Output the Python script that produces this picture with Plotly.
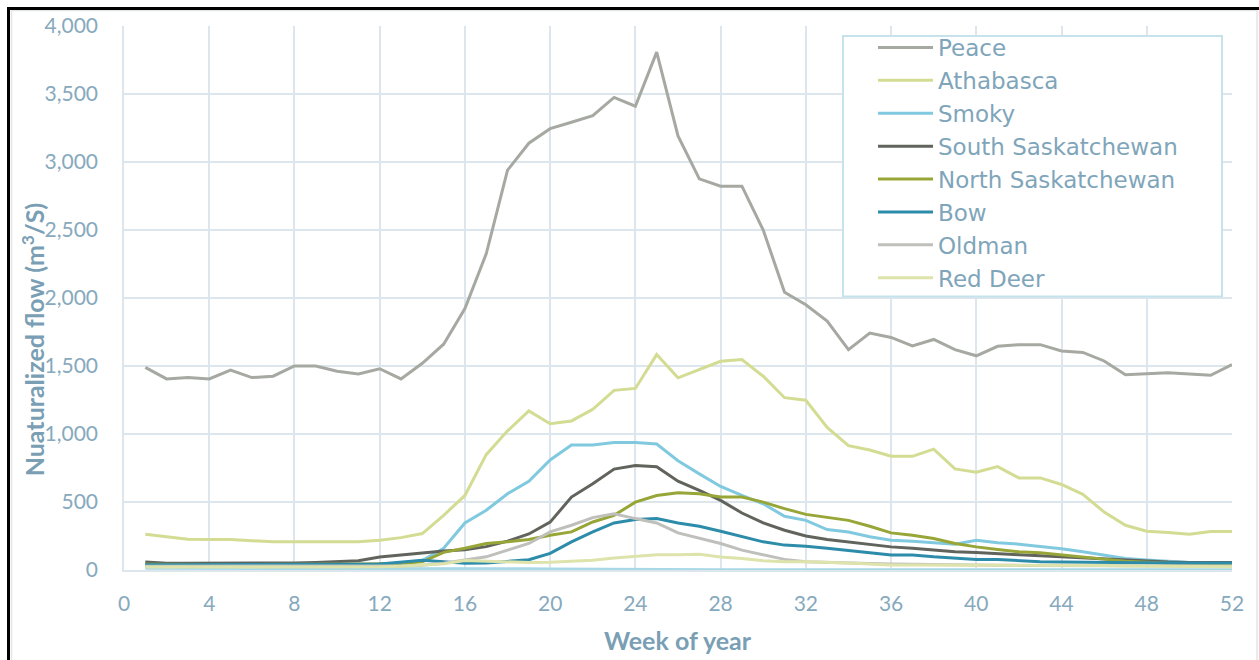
import plotly.graph_objects as go

weeks = [1, 2, 3, 4, 5, 6, 7, 8, 9, 10, 11, 12, 13, 14, 15, 16, 17, 18, 19, 20, 21, 22, 23, 24, 25, 26,
         27, 28, 29, 30, 31, 32, 33, 34, 35, 36, 37, 38, 39, 40, 41, 42, 43, 44, 45, 46, 47, 48, 49, 50, 51, 52]

peace = [1490, 1405, 1415, 1405, 1470, 1415, 1425, 1500, 1500, 1462, 1442, 1480, 1405, 1520, 1660, 1922,
         2325, 2940, 3138, 3245, 3292, 3340, 3475, 3410, 3808, 3192, 2876, 2822, 2822, 2500, 2042, 1950,
         1830, 1620, 1742, 1710, 1647, 1695, 1620, 1575, 1645, 1657, 1657, 1610, 1600, 1537, 1435, 1442,
         1450, 1442, 1432, 1510]
athabasca = [263, 245, 226, 224, 224, 215, 208, 207, 207, 207, 207, 219, 238, 268, 402, 548, 848, 1023,
             1170, 1075, 1096, 1182, 1321, 1335, 1584, 1413, 1474, 1535, 1547, 1425, 1267, 1248, 1048,
             914, 882, 836, 836, 889, 743, 719, 760, 677, 677, 629, 556, 426, 329, 285, 275, 263, 283, 283]
smoky = [30, 30, 30, 30, 30, 30, 30, 30, 30, 30, 30, 32, 45, 70, 160, 346, 439, 561, 653, 809, 919, 919,
         938, 938, 926, 804, 707, 614, 548, 487, 395, 365, 297, 280, 244, 219, 212, 200, 190, 219, 200,
         190, 175, 156, 134, 107, 85, 73, 63, 55, 50, 50]
south_sask = [58, 50, 50, 50, 50, 50, 50, 52, 56, 60, 68, 95, 108, 125, 140, 148, 172, 212, 265, 352, 536,
              634, 742, 768, 760, 653, 585, 512, 419, 346, 292, 250, 225, 205, 188, 170, 160, 146, 134,
              128, 122, 112, 104, 96, 88, 78, 70, 62, 58, 56, 55, 55]
north_sask = [42, 40, 40, 40, 40, 40, 40, 40, 40, 42, 44, 46, 50, 60, 130, 160, 195, 207, 224, 256, 280,
              353, 402, 499, 548, 568, 561, 536, 536, 499, 451, 409, 385, 365, 322, 273, 256, 232, 195,
              170, 151, 134, 127, 110, 97, 80, 65, 56, 50, 45, 42, 40]
bow = [38, 38, 38, 38, 38, 38, 38, 38, 38, 40, 42, 45, 60, 72, 60, 50, 52, 65, 75, 122, 207, 280, 346,
       372, 378, 346, 322, 285, 244, 207, 183, 175, 160, 146, 127, 110, 110, 97, 85, 78, 78, 68, 61, 58,
       56, 54, 52, 52, 52, 52, 52, 52]
oldman = [28, 28, 28, 28, 28, 28, 28, 28, 28, 28, 28, 28, 30, 35, 50, 73, 97, 146, 195, 280, 329, 385,
          414, 378, 346, 273, 232, 195, 146, 110, 78, 61, 55, 52, 48, 45, 42, 40, 38, 36, 35, 34, 33, 32,
          31, 30, 30, 30, 30, 30, 30, 30]
red_deer = [22, 22, 22, 22, 22, 22, 22, 22, 22, 22, 22, 24, 28, 35, 45, 70, 65, 60, 55, 57, 63, 72, 88,
            102, 112, 112, 115, 95, 85, 68, 61, 61, 58, 52, 45, 37, 37, 37, 37, 37, 37, 37, 37, 37, 35,
            33, 30, 28, 26, 25, 24, 24]
unlabelled = [12, 12, 12, 12, 12, 12, 12, 12, 12, 12, 12, 12, 12, 12, 14, 14, 12, 10, 9, 8, 7, 6, 2, 2,
              2, 2, 2, 2, 2, 2, 2, 2, 2, 2, 2, 2, 2, 2, 2, 2, 2, 2, 2, 2, 2, 2, 2, 2, 2, 2, 2, 2]

series_names = ["Peace", "Athabasca", "Smoky", "South Saskatchewan", "North Saskatchewan",
                "Bow", "Oldman", "Red Deer"]
series_values = [peace, athabasca, smoky, south_sask, north_sask, bow, oldman, red_deer]
series_colors = ["#A6A9A1", "#D3DC92", "#80C9DF", "#60645D", "#98A537", "#2D8CAA", "#BFC0BC", "#DDE3AB"]

x_ticks = [0, 4, 8, 12, 16, 20, 24, 28, 32, 36, 40, 44, 48, 52]
y_ticks = [0, 500, 1000, 1500, 2000, 2500, 3000, 3500, 4000]

FONT = "Lato"
LEGEND_FONT = "DejaVu Sans"
TICK_COLOR = "#86A9BD"
TITLE_COLOR = "#7A9FB5"
GRID = "#DCE6EC"

W, H = 1259, 660
ML, MR, MT, MB = 124, 27, 23, 90
PW, PH = W - ML - MR, H - MT - MB


def px(xp):
    return (xp - ML) / PW


def py(yp):
    return (H - MB - yp) / PH


fig = go.Figure()

fig.add_trace(go.Scatter(x=weeks, y=unlabelled, mode="lines", showlegend=False, hoverinfo="skip",
                         line=dict(color="#A9D8E7", width=3)))
for name, vals, col in zip(series_names, series_values, series_colors):
    fig.add_trace(go.Scatter(x=weeks, y=vals, name=name, mode="lines",
                             line=dict(color=col, width=3)))

shapes = [
    # legend box
    dict(type="rect", xref="paper", yref="paper", x0=px(843), x1=px(1222), y0=py(295), y1=py(33),
         line=dict(color="#C6E3EB", width=2), fillcolor="white", layer="above"),
    # outer light frame
    dict(type="rect", xref="paper", yref="paper", x0=px(11.5), x1=px(1257), y0=py(700), y1=py(7.5),
         line=dict(color="#E2E6E8", width=1.5), fillcolor="rgba(0,0,0,0)", layer="below"),
    # black border
    dict(type="line", xref="paper", yref="paper", x0=px(8.5), x1=px(8.5), y0=py(700), y1=py(4),
         line=dict(color="black", width=3)),
    dict(type="line", xref="paper", yref="paper", x0=px(7), x1=px(1300), y0=py(5.5), y1=py(5.5),
         line=dict(color="black", width=3)),
]

annotations = [
    dict(text="Week of year", xref="paper", yref="paper", x=px(678), y=py(640), showarrow=False,
         font=dict(family=FONT, size=25, color=TITLE_COLOR, weight="bold"),
         xanchor="center", yanchor="middle"),
    dict(text="Nuaturalized flow (m<sup>3</sup>/S)", xref="paper", yref="paper", x=px(33), y=py(338),
         showarrow=False, textangle=-90,
         font=dict(family=FONT, size=25, color=TITLE_COLOR, weight="bold"),
         xanchor="center", yanchor="middle"),
]

fig.update_layout(
    width=W, height=H,
    margin=dict(l=ML, r=MR, t=MT, b=MB),
    paper_bgcolor="white", plot_bgcolor="white",
    font=dict(family=FONT, color=TICK_COLOR),
    showlegend=True,
    legend=dict(x=px(873), y=py(23), xanchor="left", yanchor="top",
                bgcolor="rgba(0,0,0,0)", borderwidth=0,
                font=dict(family=LEGEND_FONT, size=23, color="#7FA5BA"),
                tracegroupgap=0, itemwidth=55),
    shapes=shapes,
    annotations=annotations,
    xaxis=dict(range=[0, 52], tickvals=x_ticks, ticktext=[str(v) for v in x_ticks],
               showgrid=True, gridcolor=GRID, gridwidth=1.5,
               showline=True, linecolor=GRID, linewidth=1.5, zeroline=False,
               ticks="", ticklabelstandoff=14,
               tickfont=dict(family=FONT, size=21, color=TICK_COLOR)),
    yaxis=dict(range=[0, 4000], tickvals=y_ticks, tickformat=",",
               showgrid=True, gridcolor=GRID, gridwidth=1.5,
               showline=True, linecolor=GRID, linewidth=1.5, zeroline=False,
               ticks="", ticklabelstandoff=20,
               tickfont=dict(family=FONT, size=21, color=TICK_COLOR)),
)

post = "document.body.style.margin='0';document.body.style.padding='0';"

fig.write_html("out.html", config={"displayModeBar": False}, post_script=post)
